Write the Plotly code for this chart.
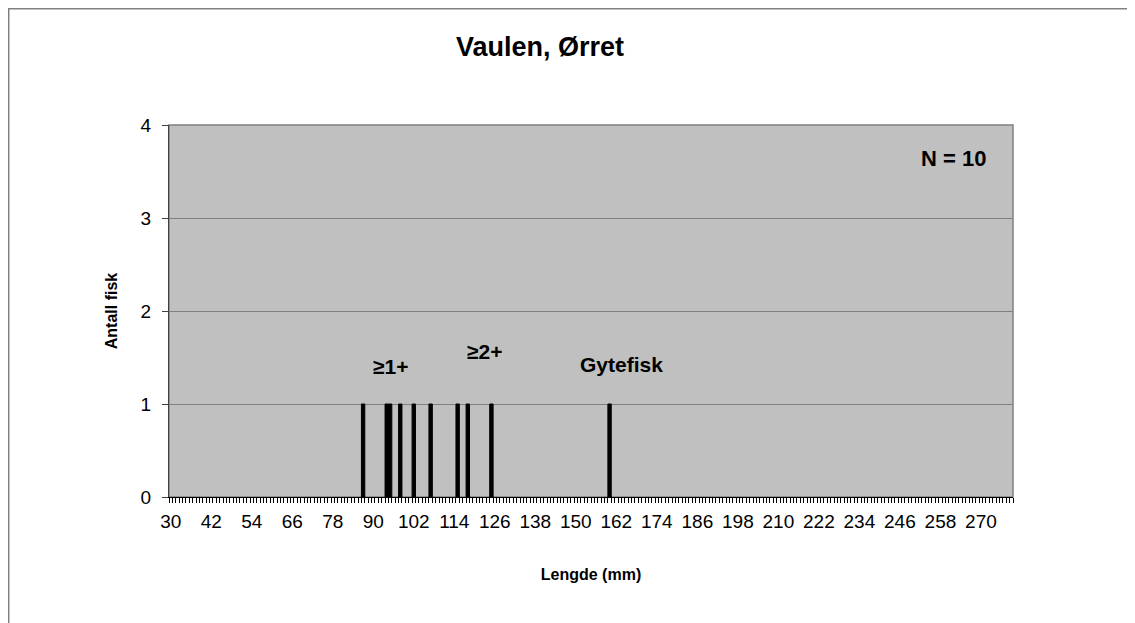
import plotly.graph_objects as go

# lengths (mm) of each fish caught, one bar per fish
lengths = [87, 94, 95, 98, 102, 107, 115, 118, 125, 160]
counts = [1, 1, 1, 1, 1, 1, 1, 1, 1, 1]

x_ticks = [30, 42, 54, 66, 78, 90, 102, 114, 126, 138, 150, 162, 174, 186,
           198, 210, 222, 234, 246, 258, 270]
y_ticks = [0, 1, 2, 3, 4]

title = "Vaulen, Ørret"
n_label = "N = 10"
group_labels = ["≥1+", "≥2+", "Gytefisk"]

FONT = "Liberation Sans, Arial, sans-serif"

fig = go.Figure()

fig.add_trace(
    go.Bar(
        x=lengths,
        y=counts,
        width=1,
        marker=dict(color="black", line=dict(color="black", width=1)),
        showlegend=False,
        hoverinfo="x+y",
    )
)

# the page body has an 8px margin, so the figure is sized to fit inside it
fig.update_layout(
    width=1127,
    height=615,
    margin=dict(l=161, r=122, t=117, b=126),
    paper_bgcolor="white",
    plot_bgcolor="#C0C0C0",
    font=dict(family=FONT, size=19, color="black"),
    title=dict(text="<b>" + title + "</b>", x=0.472, xref="container",
               xanchor="center", y=0.9366, yref="container", yanchor="middle",
               font=dict(size=27)),
    xaxis=dict(
        range=[29.5, 279.5],
        tickvals=x_ticks,
        ticks="",
        showgrid=False,
        zeroline=False,
        showline=True,
        linecolor="black",
        linewidth=1,
        ticklabelstandoff=7,
        minor=dict(dtick=1, tick0=29.5, ticks="outside", ticklen=5,
                   tickcolor="black", showgrid=False),
        title=dict(text="<b>Lengde (mm)</b>", font=dict(size=16), standoff=38),
        automargin=False,
    ),
    yaxis=dict(
        range=[0, 4],
        tickvals=y_ticks,
        ticks="outside",
        ticklen=6,
        tickcolor="#404040",
        showgrid=True,
        gridcolor="#808080",
        gridwidth=1,
        zeroline=False,
        showline=True,
        linecolor="#404040",
        linewidth=1,
        ticklabelstandoff=7,
        title=dict(text="<b>Antall fisk</b>", font=dict(size=16), standoff=19),
        automargin=False,
    ),
    shapes=[
        # plot area border
        dict(type="rect", xref="paper", yref="paper", x0=0, x1=1, y0=0, y1=1,
             line=dict(color="#808080", width=1.5), layer="below"),
        # outer chart frame
        dict(type="rect", xref="paper", yref="paper", x0=-0.1899, x1=2,
             y0=-2, y1=1.3125, line=dict(color="#808080", width=1.5)),
    ],
    annotations=[
        dict(x=261.8, y=3.645, text="<b>" + n_label + "</b>", showarrow=False,
             font=dict(size=22)),
        dict(x=95, y=1.40, text="<b>" + group_labels[0] + "</b>", showarrow=False,
             font=dict(size=21)),
        dict(x=123.1, y=1.56, text="<b>" + group_labels[1] + "</b>", showarrow=False,
             font=dict(size=21)),
        dict(x=163.4, y=1.43, text="<b>" + group_labels[2] + "</b>", showarrow=False,
             font=dict(size=21)),
    ],
)

fig.write_html("out.html")
